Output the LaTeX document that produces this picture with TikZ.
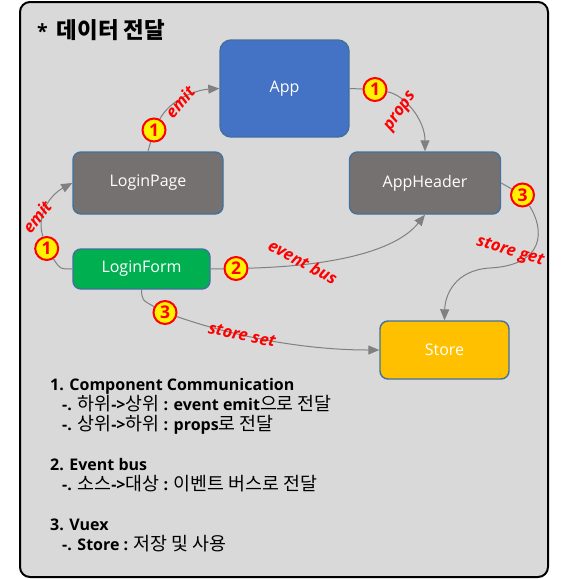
\documentclass[tikz,border=0pt]{standalone}
\usepackage{fontspec}
\setmainfont{Open Sans}
\newfontfamily\krfont[Scale=1.15]{Noto Sans CJK KR}
\usepackage{tikz}
\usetikzlibrary{
  arrows.meta,
  positioning,
}
\definecolor{bgfill}{HTML}{D9D9D9}
\definecolor{appblue}{HTML}{4472C4}
\definecolor{edgeblue}{HTML}{41719C}
\definecolor{compgray}{HTML}{767171}
\definecolor{formgreen}{HTML}{00B050}
\definecolor{storegold}{HTML}{FFC000}
\definecolor{linkgray}{HTML}{808080}
\newcommand{\kr}[1]{{\krfont\mdseries #1}}
\tikzset{
  >={Triangle[length=11pt,width=9pt]},
  my frame/.style={
    draw=black,
    line width=2pt,
    fill=bgfill,
    rounded corners=10pt
  },
  my box/.style={
    draw=edgeblue,
    line width=1.4pt,
    rounded corners=8pt,
    text=white,
    font=\fontsize{16}{19}\selectfont,
    rectangle
  },
  my num/.style={
    circle,
    draw=red,
    fill=yellow,
    line width=2pt,
    minimum size=23pt,
    inner sep=0pt,
    text=red,
    font=\fontsize{17.5}{17.5}\selectfont\bfseries
  },
  my label/.style={
    text=red,
    inner sep=0pt,
    font=\fontsize{16.5}{16.5}\selectfont\bfseries\itshape
  },
  my link/.style={
    draw=linkgray,
    line width=1pt
  },
  my notes/.style={
    anchor=north west,
    align=left,
    inner sep=0pt,
    font=\fontsize{16}{20}\selectfont\bfseries
  }
}

\begin{document}
\begin{tikzpicture}[x=1pt,y=-1pt]
\useasboundingbox (0,0) rectangle (562,579);
\path[my frame] (20,2) rectangle (548,577);
\node[anchor=base west,inner sep=0pt,font=\fontsize{19.5}{20}\selectfont\bfseries] (title) at (37,38) {*\hspace{9pt}{\krfont 데이터 전달}};

% components
\node[my box,fill=appblue,minimum width=129pt,minimum height=97pt,rounded corners=11pt] (app) at (284.5,88.5) {App};
\node[my box,fill=compgray,minimum width=150pt,minimum height=62pt] (loginpage) at (148,183) {LoginPage};
\node[my box,fill=compgray,minimum width=151pt,minimum height=62pt] (appheader) at (425,183) {AppHeader};
\node[my box,fill=formgreen,minimum width=137pt,minimum height=40pt] (loginform) at (141.5,269) {LoginForm};
\node[my box,fill=storegold,minimum width=129pt,minimum height=58pt] (store) at (444.5,350) {Store};

% numbered marks
\node[my num] (n1a) at (154,130) {1};
\node[my num] (n1b) at (375,89.5) {1};
\node[my num] (n1c) at (46.7,248.5) {1};
\node[my num] (n2)  at (236,268.5) {2};
\node[my num] (n3a) at (165,312.5) {3};
\node[my num] (n3b) at (522.5,195) {3};

% connectors
\draw[my link] (loginpage.north) -- (n1a);
\draw[my link,->] (n1a) .. controls (170,100) and (195,90) .. (app.west);
\draw[my link] (app.east) -- (n1b);
\draw[my link,->] (n1b) .. controls (405,95) and (425,120) .. (appheader.north);
\draw[my link] (loginform.west) .. controls (60,269) .. (n1c);
\draw[my link,->] (n1c) .. controls (36,215) and (50,195) .. (loginpage.west);
\draw[my link] (loginform.east) -- (n2);
\draw[my link,->] (n2) .. controls (330,266) and (395,252) .. (appheader.south);
\draw[my link] (loginform.south) .. controls (142,300) .. (n3a);
\draw[my link,->] (n3a) .. controls (230,335) and (300,350) .. (store.west);
\draw[my link] (appheader.east) -- (n3b);
\draw[my link,->] (n3b) .. controls (545,230) and (545,265) .. (490,268)
  .. controls (455,270) and (445,295) .. (store.north);

% labels
\node[my label,rotate=50]  (emittop)  at (180,102) {emit};
\node[my label,rotate=55]  (props)    at (401,112) {props};
\node[my label,rotate=52]  (emitleft) at (37,217)  {emit};
\node[my label,rotate=-28] (bus)      at (303,262) {event bus};
\node[my label,rotate=-12] (storeset) at (242,335) {store set};
\node[my label,rotate=-16] (storeget) at (510,252) {store get};

% notes
\node[my notes] (notes) at (50,378.5) {1. Component Communication\\
\hspace*{12pt}-. \kr{하위}->\kr{상위} : event emit\kr{으로 전달}\\
\hspace*{12pt}-. \kr{상위}->\kr{하위} : props\kr{로 전달}\\[20pt]
2. Event bus\\
\hspace*{12pt}-. \kr{소스}->\kr{대상} : \kr{이벤트 버스로 전달}\\[20pt]
3. Vuex\\
\hspace*{12pt}-. Store : \kr{저장 및 사용}};
\end{tikzpicture}
\end{document}
